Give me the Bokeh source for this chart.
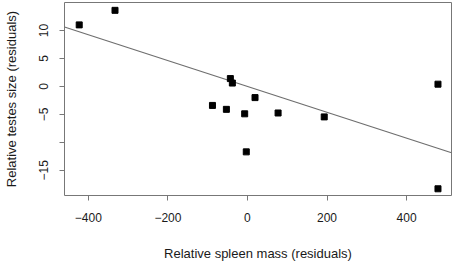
from bokeh.plotting import figure
from bokeh.models import FixedTicker, Range1d
from bokeh.embed import file_html
from bokeh.resources import INLINE

spleen = [-423, -333, -88, -53, -43, -38, 19, -7, 77, 193, -3, 479, 479]
testes = [11.0, 13.6, -3.4, -4.1, 1.4, 0.6, -2.0, -4.9, -4.75, -5.45, -11.7, 0.4, -18.3]
fit_x = [-460, 513]
fit_slope = -0.0231
fit_intercept = 0.0
fit_y = [fit_intercept + fit_slope * x for x in fit_x]
x_ticks = [-400, -200, 0, 200, 400]
y_ticks = [10, 5, 0, -5, -10, -15]

FONT = "Liberation Sans"

p = figure(width=454, height=263, output_backend="svg", toolbar_location=None,
           x_range=Range1d(-460, 513), y_range=Range1d(-19.5, 15.0),
           min_border_left=63, min_border_right=3, min_border_top=2, min_border_bottom=67)
p.background_fill_color = "white"
p.border_fill_color = "white"
p.outline_line_color = "#777777"
p.outline_line_width = 1
p.grid.visible = False

p.line(fit_x, fit_y, line_color="#6e6e6e", line_width=1.2)
p.scatter(spleen, testes, marker="square", size=6, fill_color="black", line_color="black")

for ax in (p.xaxis[0], p.yaxis[0]):
    ax.axis_line_color = None
    ax.major_tick_line_color = "#777777"
    ax.major_tick_out = 5
    ax.major_tick_in = 0
    ax.minor_tick_line_color = None
    ax.major_label_text_font = FONT
    ax.major_label_text_font_size = "12px"
    ax.major_label_text_color = "#1a1a1a"
    ax.axis_label_text_font = FONT
    ax.axis_label_text_font_size = "13px"
    ax.axis_label_text_font_style = "normal"
    ax.axis_label_text_color = "#1a1a1a"

p.xaxis.ticker = FixedTicker(ticks=x_ticks)
p.yaxis.ticker = FixedTicker(ticks=y_ticks)
p.yaxis.major_label_overrides = {-10: ""}
p.yaxis.major_label_orientation = "vertical"
p.xaxis.axis_label = "Relative spleen mass (residuals)"
p.yaxis.axis_label = "Relative testes size (residuals)"
p.xaxis.major_label_standoff = 12
p.xaxis.axis_label_standoff = 21
p.yaxis.major_label_standoff = 11
p.yaxis.axis_label_standoff = 18

open("out.html", "w").write(file_html(p, INLINE))
